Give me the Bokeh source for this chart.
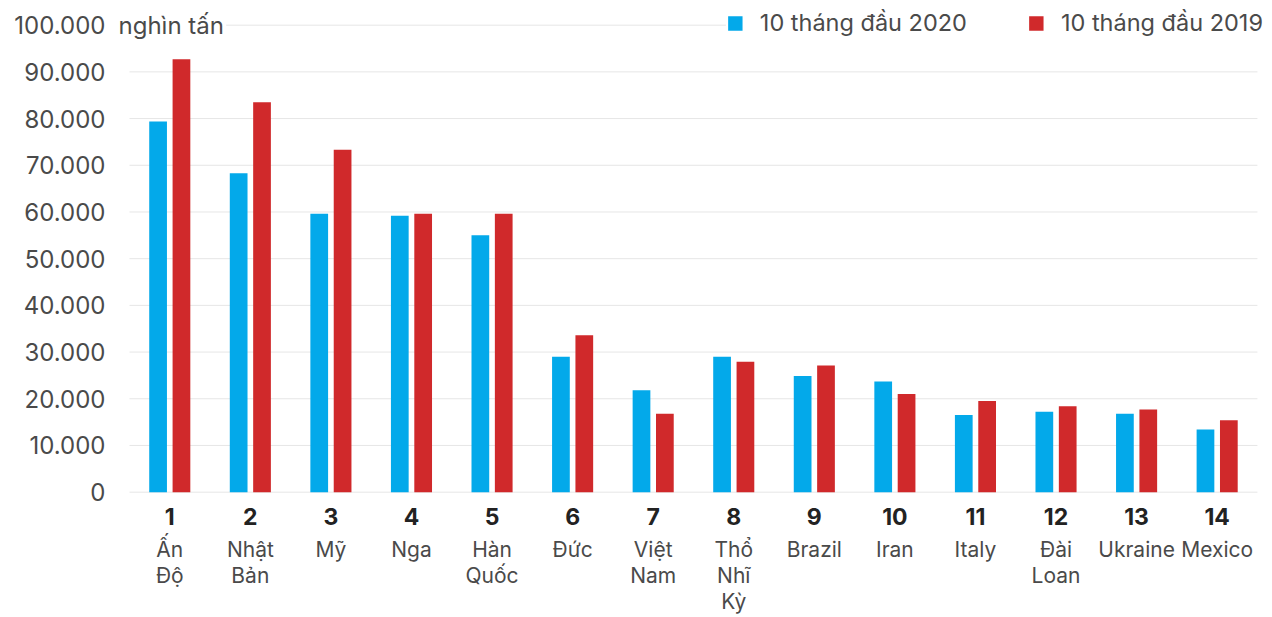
from bokeh.plotting import figure
from bokeh.models import (ColumnDataSource, FixedTicker, Range1d, Legend, LegendItem,
                          LinearAxis)
from bokeh.embed import file_html
from bokeh.resources import INLINE
from bokeh.core.properties import value
from bokeh.transform import dodge

# ---- data ----
ranks = list(range(1, 15))
countries = ["Ấn\nĐộ", "Nhật\nBản", "Mỹ", "Nga", "Hàn\nQuốc", "Đức", "Việt\nNam",
             "Thổ\nNhĩ\nKỳ", "Brazil", "Iran", "Italy", "Đài\nLoan", "Ukraine", "Mexico"]
s2020 = [79400, 68300, 59600, 59200, 55000, 29000, 21800, 29000, 24900, 23700,
         16500, 17200, 16800, 13400]
s2019 = [92700, 83500, 73300, 59600, 59600, 33600, 16800, 27900, 27100, 21000,
         19500, 18400, 17700, 15400]
series_names = ["10 tháng đầu 2020", "10 tháng đầu 2019"]
y_ticks = [0, 10000, 20000, 30000, 40000, 50000, 60000, 70000, 80000, 90000, 100000]
unit = "nghìn tấn"

# ---- style ----
FONT = "Inter"
BLUE = "#03A9EA"
RED = "#D0292B"
GRID = "#E6E6E6"
LABEL_COLOR = "#4a4a4a"

src = ColumnDataSource(dict(x=ranks, a=s2020, b=s2019))
tick_labels = ["{:,}".format(v).replace(",", ".") for v in y_ticks]
grid_x0 = [0.5 if t < max(y_ticks) else 1.70 for t in y_ticks]
ysrc = ColumnDataSource(dict(tick=y_ticks, lab=tick_labels, x0=grid_x0))

p = figure(width=1272, height=617, x_range=Range1d(-1.101, 14.6), y_range=Range1d(-2000, 104000),
           output_backend="svg", toolbar_location=None,
           min_border_left=0, min_border_right=7, min_border_top=6, min_border_bottom=115)
p.outline_line_color = None
p.background_fill_color = "white"
p.border_fill_color = "white"
p.grid.visible = False
p.yaxis.visible = False

# gridlines
p.segment(x0="x0", y0="tick", x1=14.5, y1="tick", source=ysrc, line_color=GRID, line_width=1)

# y tick labels and unit
p.text(x=0.5, y="tick", text="lab", source=ysrc, x_offset=-24, text_align="right",
       text_baseline="middle", text_font=value(FONT), text_font_size="24px",
       text_color=LABEL_COLOR)
p.text(x=0.5, y=[max(y_ticks)], text=[unit], x_offset=-11, text_align="left",
       text_baseline="middle", text_font=value(FONT), text_font_size="24px",
       text_color=LABEL_COLOR)

# bars
r1 = p.vbar(x=dodge("x", -0.145), top="a", width=0.22, source=src, fill_color=BLUE, line_color=None)
r2 = p.vbar(x=dodge("x", 0.145), top="b", width=0.22, source=src, fill_color=RED, line_color=None)

# x axis: rank numbers
p.xaxis.ticker = FixedTicker(ticks=ranks)
p.xaxis.major_label_overrides = {r: str(r) for r in ranks}
p.xaxis.axis_line_color = None
p.xaxis.major_tick_line_color = None
p.xaxis.minor_tick_line_color = None
p.xaxis.major_label_text_font = FONT
p.xaxis.major_label_text_font_size = "23px"
p.xaxis.major_label_text_font_style = "bold"
p.xaxis.major_label_text_color = "#222222"
p.xaxis.major_label_standoff = 0

# second x axis: country names
ax2 = LinearAxis(ticker=FixedTicker(ticks=ranks),
                 major_label_overrides={r: n for r, n in zip(ranks, countries)})
ax2.axis_line_color = None
ax2.major_tick_line_color = None
ax2.minor_tick_line_color = None
ax2.major_label_text_font = FONT
ax2.major_label_text_font_size = "21px"
ax2.major_label_text_color = LABEL_COLOR
ax2.major_label_text_line_height = 1.05
ax2.major_label_standoff = 3
p.add_layout(ax2, "below")

legend = Legend(items=[LegendItem(label=series_names[0], renderers=[r1]),
                       LegendItem(label=series_names[1], renderers=[r2])],
                orientation="horizontal", location="top_right",
                glyph_width=18, glyph_height=18, label_text_font=FONT,
                label_text_font_size="23.5px", label_text_color=LABEL_COLOR,
                spacing=60, label_standoff=16, padding=0, margin=2,
                border_line_color=None, background_fill_color="white", background_fill_alpha=1)
p.add_layout(legend)

open("out.html", "w").write(file_html(p, INLINE))
